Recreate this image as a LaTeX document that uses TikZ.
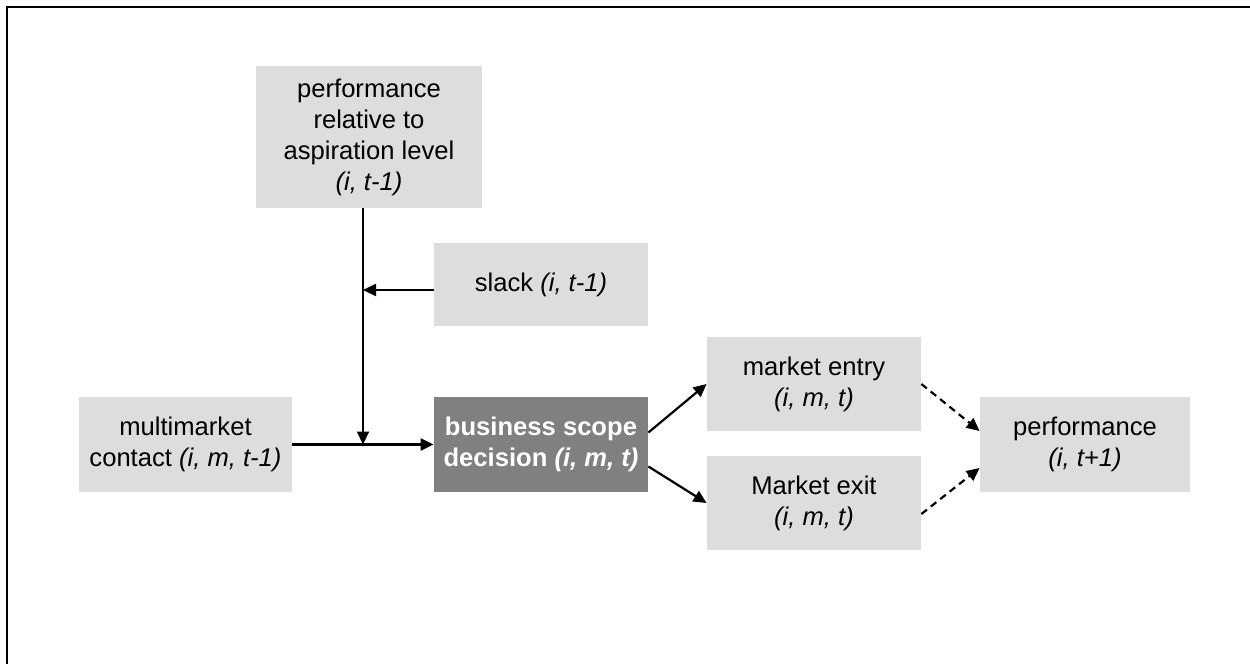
\documentclass[tikz,border=0pt]{standalone}
\usepackage{fontspec}
\setmainfont{Liberation Sans}
\usepackage{tikz}
\usetikzlibrary{arrows.meta}
\definecolor{boxgrey}{HTML}{DDDDDD}
\definecolor{darkgrey}{HTML}{808080}

\begin{document}
\begin{tikzpicture}[x=0.5pt, y=-0.5pt,
    box/.style={fill=boxgrey, align=center, inner sep=0pt,
      font=\fontsize{12.8pt}{15.5pt}\selectfont},
    arr/.style={line width=1.1pt, -{Triangle[length=6.5pt, width=6pt]}},
    darr/.style={arr, dash pattern=on 3.5pt off 2.5pt}]
      \useasboundingbox (0, 0) rectangle (1250, 664);
      \draw[line width=1.3pt] (7, 664) -- (7, 7) -- (1250, 7);

      \node[box, minimum width=113pt, minimum height=71pt] (aspire) at (369, 137)
        {performance\\relative to\\aspiration level\\\textit{(i, t-1)}};
      \node[box, minimum width=107pt, minimum height=41.5pt] (slack) at (541, 284.5)
        {slack \textit{(i, t-1)}};
      \node[box, minimum width=106.5pt, minimum height=47.5pt] (mmc) at (185.5, 444.5)
        {multimarket\\contact \textit{(i, m, t-1)}};
      \node[box, fill=darkgrey, text=white, minimum width=107pt, minimum height=47.5pt] (scope) at (541, 444.5)
        {\bfseries business scope\\\bfseries decision \textit{(i, m, t)}};
      \node[box, minimum width=107pt, minimum height=47pt] (entry) at (814, 384)
        {market entry\\\textit{(i, m, t)}};
      \node[box, minimum width=107pt, minimum height=47pt] (exit) at (814, 503)
        {Market exit\\\textit{(i, m, t)}};
      \node[box, minimum width=105pt, minimum height=47.5pt] (perf) at (1085, 444.5)
        {performance\\\textit{(i, t+1)}};

      \coordinate (join) at (363, 444.5);
      \coordinate (slackin) at (363, 290);

      \draw[arr] (mmc.east) -- (scope.west);
      \draw[arr] (aspire.south -| join) -- (join);
      \draw[arr] (slack.west |- slackin) -- (slackin);
      \draw[arr] ([yshift=6pt]scope.east) -- (entry.west);
      \draw[arr] ([yshift=-11pt]scope.east) -- (exit.west);
      \draw[darr] (entry.east) -- ([yshift=6.75pt]perf.west);
      \draw[darr] ([yshift=-5.5pt]exit.east) -- ([yshift=-11.75pt]perf.west);
    \end{tikzpicture}
\end{document}
